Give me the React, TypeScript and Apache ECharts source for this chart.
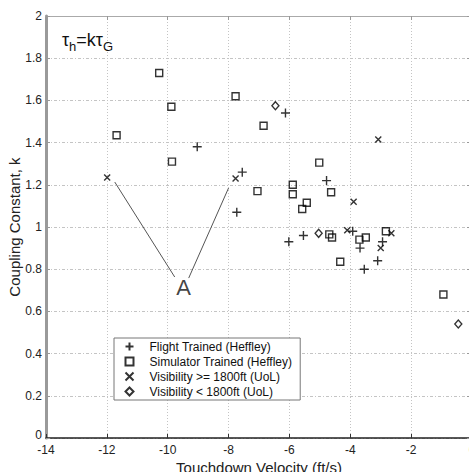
import React, { useEffect, useRef } from "react";
import * as echarts from "echarts";

const xTicks = { min: -14, max: 0, interval: 2 };
const yTicks = { min: 0, max: 2, interval: 0.2 };

const seriesNames = [
  "Flight Trained (Heffley)",
  "Simulator Trained (Heffley)",
  "Visibility >= 1800ft (UoL)",
  "Visibility < 1800ft (UoL)",
];

const flightX = [-9.03, -6.13, -7.55, -7.73, -4.78, -6.02, -5.54, -3.92, -3.68, -3.54, -3.1, -2.94];
const flightY = [1.38, 1.54, 1.26, 1.07, 1.22, 0.93, 0.96, 0.98, 0.9, 0.8, 0.84, 0.93];

const simX = [-10.28, -9.88, -11.68, -9.86, -7.77, -6.85, -7.05, -5.02, -5.89, -5.89, -5.43, -5.58, -4.63, -4.69, -4.6, -3.7, -3.49, -2.83, -4.33, -0.94];
const simY = [1.73, 1.57, 1.435, 1.31, 1.62, 1.48, 1.17, 1.305, 1.2, 1.155, 1.115, 1.085, 1.165, 0.965, 0.95, 0.94, 0.95, 0.98, 0.835, 0.68];

const visHiX = [-11.99, -7.77, -3.08, -3.89, -4.1, -2.65, -3.0];
const visHiY = [1.235, 1.23, 1.415, 1.12, 0.985, 0.97, 0.9];

const visLoX = [-6.46, -5.04, -0.45];
const visLoY = [1.575, 0.97, 0.54];

const annotLeftX = [-11.74, -9.77];
const annotLeftY = [1.213, 0.763];
const annotRightX = [-9.31, -8.0];
const annotRightY = [0.758, 1.185];
const annotLabel = "A";
const annotLabelX = -9.48;
const annotLabelY = 0.711;

const zip = (xs: number[], ys: number[]) => xs.map((x, i) => [x, ys[i]]);

const FONT = "'Liberation Sans', Arial, Helvetica, sans-serif";
const PLUS = "path://M0,5L10,5M5,0L5,10";
const CROSS = "path://M0,0L10,10M10,0L0,10";

export default function App() {
  const ref = useRef<HTMLDivElement>(null);
  useEffect(() => {
    if (!ref.current) return;
    const chart = echarts.init(ref.current, undefined, { renderer: "svg" });
    const markStyle = { color: "none", borderColor: "#000", borderWidth: 1.4 };
    const option: any = {
      animation: false,
      textStyle: { fontFamily: FONT },
      grid: { left: 46, top: 16, right: -3, bottom: 34, containLabel: false, outerBoundsMode: "none" },
      xAxis: [
        {
          type: "value",
          ...xTicks,
          position: "bottom",
          name: "Touchdown Velocity (ft/s)",
          nameLocation: "middle",
          nameGap: 22,
          nameMoveOverlap: false,
          nameTextStyle: { fontSize: 15, color: "#222", fontFamily: FONT },
          axisLine: { show: true, onZero: false, lineStyle: { color: "#222", width: 1.5 } },
          axisTick: { show: true, inside: true, length: 4, lineStyle: { color: "#333" } },
          axisLabel: { color: "#222", fontSize: 12, margin: 6, fontFamily: FONT },
          splitLine: { show: true, lineStyle: { color: "#c4c4c4", type: [1, 2], width: 1 } },
        },
        {
          type: "value",
          ...xTicks,
          position: "top",
          axisLine: { show: true, onZero: false, lineStyle: { color: "#aaa", width: 1 } },
          axisTick: { show: true, inside: true, length: 4, lineStyle: { color: "#999" } },
          axisLabel: { show: false },
          splitLine: { show: false },
        },
      ],
      yAxis: [
        {
          type: "value",
          ...yTicks,
          position: "left",
          name: "Coupling Constant, k",
          nameLocation: "middle",
          nameGap: 24,
          nameMoveOverlap: false,
          nameTextStyle: { fontSize: 15, color: "#222", fontFamily: FONT },
          axisLine: { show: true, onZero: false, lineStyle: { color: "#9a9a9a", width: 3 } },
          axisTick: { show: true, inside: true, length: 4, lineStyle: { color: "#999" } },
          axisLabel: {
            color: "#222",
            fontSize: 12,
            margin: 4,
            fontFamily: FONT,
            formatter: (v: number) => (v === 0 ? "{z|0}" : String(parseFloat(v.toFixed(1)))),
            rich: { z: { fontSize: 12, color: "#222", padding: [0, 0, 6, 0], fontFamily: FONT } },
          },
          splitLine: { show: true, lineStyle: { color: "#c4c4c4", type: [3, 2, 1, 2], width: 1 } },
        },
        {
          type: "value",
          ...yTicks,
          position: "right",
          axisLine: { show: true, onZero: false, lineStyle: { color: "#aaa", width: 1 } },
          axisTick: { show: true, inside: true, length: 5, lineStyle: { color: "#999" } },
          axisLabel: { show: false },
          splitLine: { show: false },
        },
      ],
      legend: {
        orient: "vertical",
        left: 114,
        top: 338,
        itemWidth: 8,
        itemHeight: 8,
        itemGap: 2,
        padding: [2, 8, 2, 9],
        backgroundColor: "#fff",
        borderColor: "#777",
        borderWidth: 1,
        textStyle: { fontSize: 12, color: "#111", lineHeight: 13, padding: [0, 0, 0, 11], fontFamily: FONT },
        data: seriesNames,
      },
      graphic: [
        {
          type: "text",
          left: 62,
          top: 31,
          style: {
            text: "{m|τ}{s|h}{m|=kτ}{s|G}",
            fill: "#111",
            rich: {
              m: { fontSize: 18, lineHeight: 18, verticalAlign: "top", fill: "#111", fontFamily: FONT },
              s: { fontSize: 13, lineHeight: 22, verticalAlign: "bottom", fill: "#111", fontFamily: FONT },
            },
          },
        },
      ],
      series: [
        {
          type: "line",
          data: zip(annotLeftX, annotLeftY),
          symbol: "none",
          silent: true,
          lineStyle: { color: "#555", width: 1 },
        },
        {
          type: "line",
          data: zip(annotRightX, annotRightY),
          symbol: "none",
          silent: true,
          lineStyle: { color: "#555", width: 1 },
        },
        {
          type: "scatter",
          data: [[annotLabelX, annotLabelY]],
          symbolSize: 1,
          silent: true,
          itemStyle: { color: "transparent" },
          label: { show: true, position: "inside", formatter: annotLabel, fontSize: 22, color: "#111", fontFamily: FONT },
        },
        {
          name: seriesNames[0],
          type: "scatter",
          data: zip(flightX, flightY),
          symbol: PLUS,
          symbolSize: 9,
          symbolKeepAspect: true,
          itemStyle: markStyle,
        },
        {
          name: seriesNames[1],
          type: "scatter",
          data: zip(simX, simY),
          symbol: "rect",
          symbolSize: 7,
          itemStyle: markStyle,
        },
        {
          name: seriesNames[2],
          type: "scatter",
          data: zip(visHiX, visHiY),
          symbol: CROSS,
          symbolSize: 6,
          symbolKeepAspect: true,
          itemStyle: markStyle,
        },
        {
          name: seriesNames[3],
          type: "scatter",
          data: zip(visLoX, visLoY),
          symbol: "diamond",
          symbolSize: [7, 8],
          itemStyle: markStyle,
        },
      ],
    };
    chart.setOption(option);
    return () => chart.dispose();
  }, []);
  return (
    <div
      ref={ref}
      style={{ position: "absolute", left: 0, top: 0, width: 469, height: 472, background: "#fff" }}
    />
  );
}
